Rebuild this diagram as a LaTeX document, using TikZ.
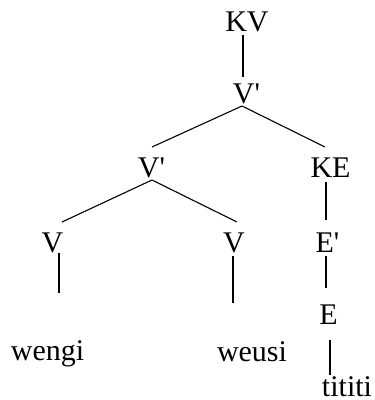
\documentclass[tikz,border=0pt]{standalone}
\usepackage{fontspec}
\setmainfont{Liberation Serif}
\newcommand{\barmark}{\textquotesingle}
\begin{document}
\begin{tikzpicture}[x=1pt,y=-1pt,
  lbl/.style={anchor=base,inner sep=0pt,font=\fontsize{30}{36}\selectfont},
  edge/.style={line width=1.1pt}]
\useasboundingbox (0,0) rectangle (375,400);

% category labels
\node[lbl] (kv) at (247,31) {KV};
\node[lbl] (v1) at (246.5,103) {V\barmark};
\node[lbl] (v2) at (151.5,177) {V\barmark};
\node[lbl] (ke) at (330.5,177) {KE};
\node[lbl] (va) at (52.5,252) {V};
\node[lbl] (vb) at (234,252) {V};
\node[lbl] (ep) at (327.5,252) {E\barmark};
\node[lbl] (e)  at (328.5,324) {E};

% words
\node[lbl] (wengi)  at (47.5,360) {wengi};
\node[lbl] (weusi)  at (252,361) {weusi};
\node[lbl] (tititi) at (347,396) {tititi};

% branches
\draw[edge] ([shift={(-4,4)}]kv.base) -- ([shift={(-3.5,-26)}]v1.base);
\draw[edge] ([shift={(-4.5,3)}]v1.base) -- ([shift={(0.5,-30)}]v2.base);
\draw[edge] ([shift={(-4.5,3)}]v1.base) -- ([shift={(-5.5,-30)}]ke.base);
\draw[edge] ([shift={(0.5,3)}]v2.base) -- ([shift={(9.5,-30)}]va.base);
\draw[edge] ([shift={(0.5,3)}]v2.base) -- ([shift={(3,-30)}]vb.base);
\draw[edge] ([shift={(-4.5,5)}]ke.base) -- ([shift={(-1.5,-32)}]ep.base);
\draw[edge] ([shift={(6.5,1)}]va.base) -- ([shift={(11.5,-67)}]wengi.base);
\draw[edge] ([shift={(-1,4)}]vb.base) -- ([shift={(-19,-58)}]weusi.base);
\draw[edge] ([shift={(-1.5,4)}]ep.base) -- ([shift={(-2.5,-36)}]e.base);
\draw[edge] ([shift={(1.5,16)}]e.base) -- ([shift={(-17,-21)}]tititi.base);
\end{tikzpicture}
\end{document}
